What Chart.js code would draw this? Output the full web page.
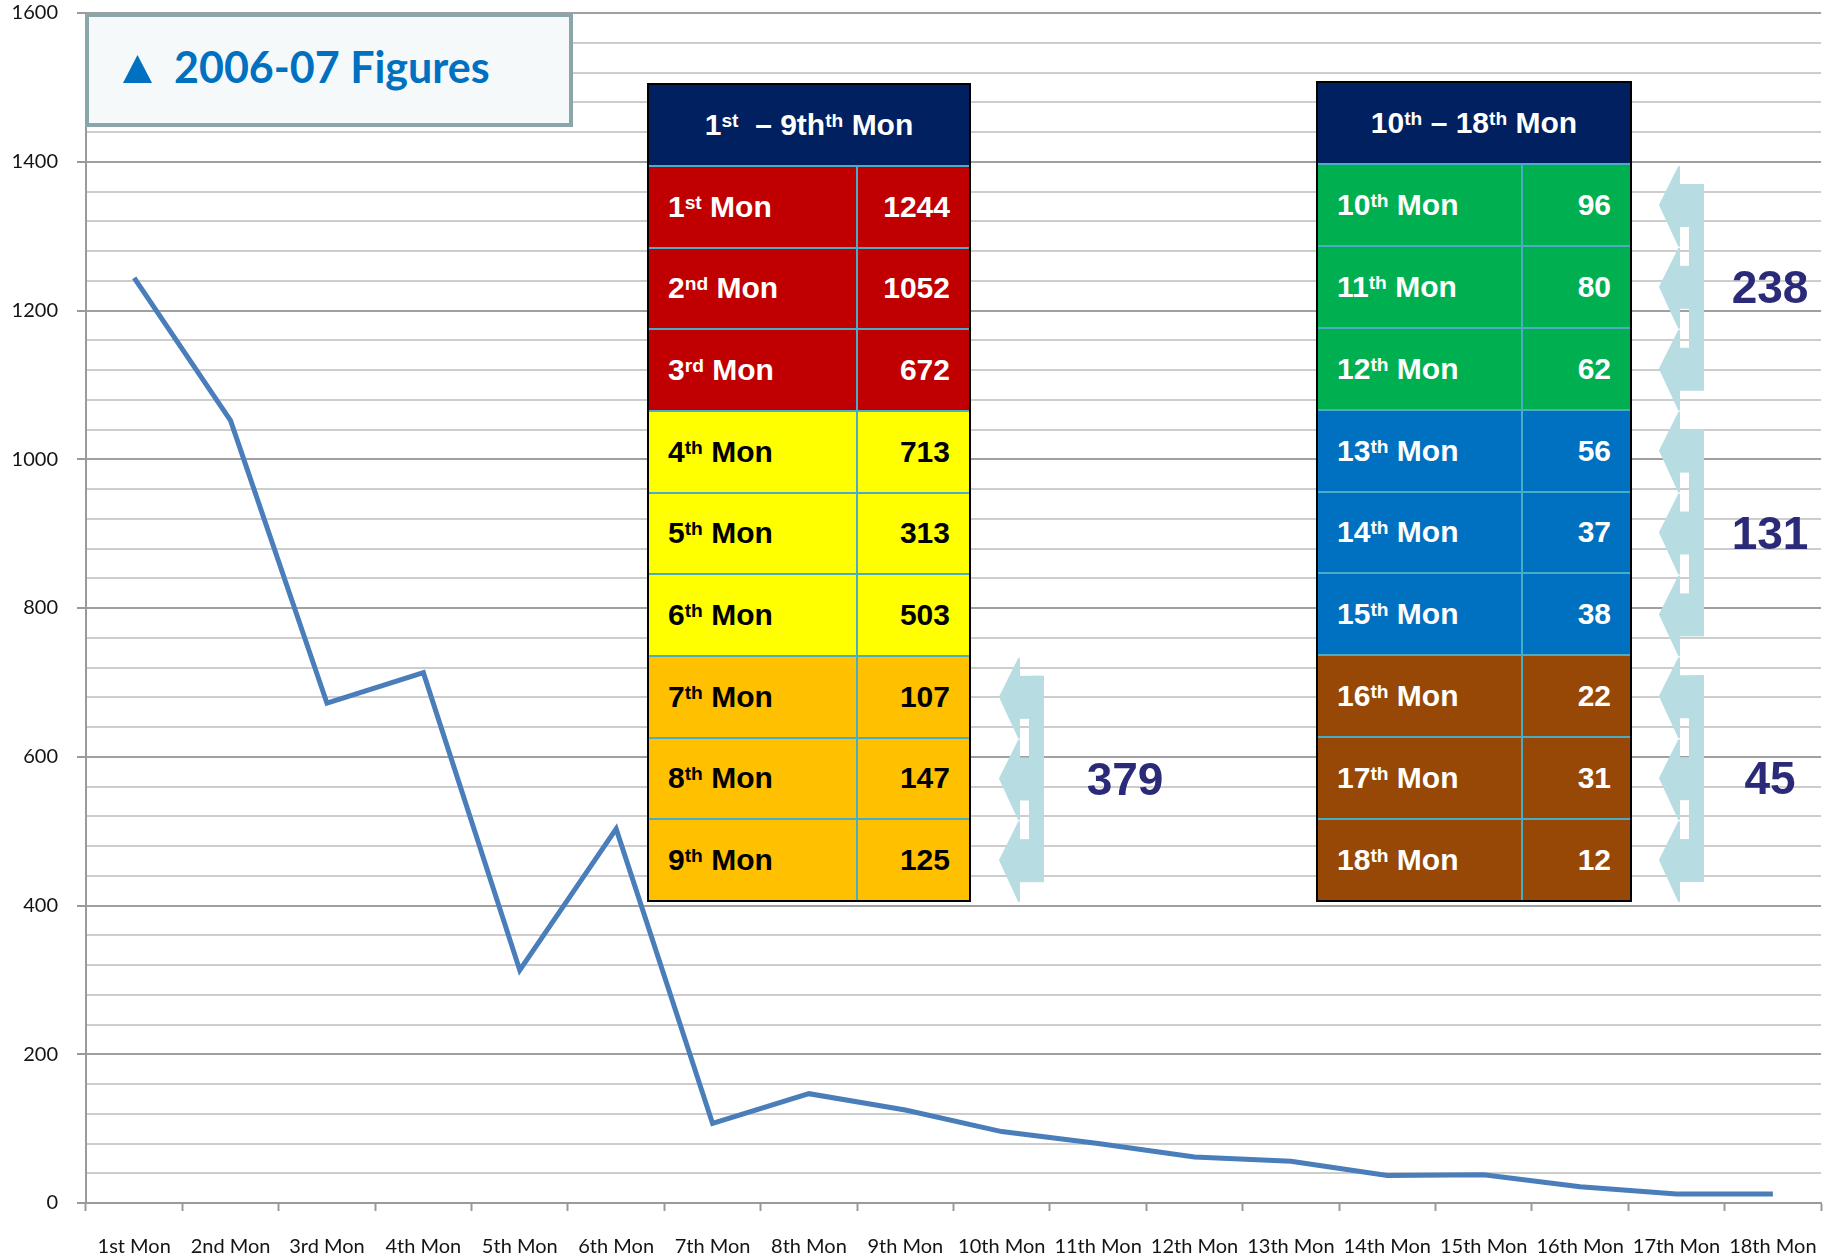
<!DOCTYPE html>
<html>
<head>
<meta charset="utf-8">
<script src="https://cdn.jsdelivr.net/npm/chart.js@4.4.0/dist/chart.umd.min.js"></script>
<style>
  body { margin: 0; background: #fff; }
  #wrap { position: relative; width: 1841px; height: 1258px; overflow: hidden; background: #fff; }
  #chart { position: absolute; left: 0; top: 0; }
  .titleBox { position: absolute; box-sizing: border-box; border: 4px solid #8ba6aa; background: #f5f9fa; }
  .titleBox .tri { position: absolute; width: 29px; height: 28px; background: #0070c0;
    clip-path: polygon(50% 0, 100% 100%, 0 100%); }
  .titleBox .txt { position: absolute; font-family: Lato, sans-serif; font-weight: bold; font-size: 43px;
    line-height: 43px; color: #0070c0; white-space: nowrap; }
  .tbl { position: absolute; box-sizing: border-box; border: 2px solid #000;
    font-family: 'Liberation Sans', Arial, sans-serif; font-weight: bold; font-size: 30px; }
  .hdr { background: #002060; color: #fff; display: flex; align-items: center; justify-content: center; white-space: nowrap; }
  .row { display: flex; box-sizing: border-box; border-top: 2px solid #4bacc6; }
  .lab { box-sizing: border-box; border-right: 2px solid #4bacc6; padding-left: 19px; display: flex; align-items: center; white-space: nowrap; }
  .val { flex: 1; padding-right: 19px; display: flex; align-items: center; justify-content: flex-end; }
  sup { font-size: 0.64em; line-height: 0; vertical-align: 0.42em; }
  .total { position: absolute; font-family: 'Liberation Sans', Arial, sans-serif; font-weight: bold; font-size: 46px;
    color: #2a2a78; transform: translate(-50%, -50%); line-height: 1; }
  svg { position: absolute; left: 0; top: 0; }
</style>
</head>
<body>
<div id="wrap">
  <canvas id="chart" width="1841" height="1258"></canvas>
  <svg id="arrows" width="1841" height="1258"></svg>
</div>
<script>
// data
const ordinals = ['1st', '2nd', '3rd', '4th', '5th', '6th', '7th', '8th', '9th',
  '10th', '11th', '12th', '13th', '14th', '15th', '16th', '17th', '18th'];
const monthLabels = ordinals.map((o) => o + ' Mon');
// values of the line as plotted
const lineValues = [1244, 1052, 672, 713, 313, 503, 107, 147, 125, 96, 80, 62, 56, 37, 38, 22, 12, 12];
// values printed in the two tables
const tableValues = [1244, 1052, 672, 713, 313, 503, 107, 147, 125, 96, 80, 62, 56, 37, 38, 22, 31, 12];
const tableHeaders = ['1<sup>st</sup>&nbsp; – 9th<sup>th</sup> Mon', '10<sup>th</sup> – 18<sup>th</sup> Mon'];
const groupTotals = [379, 238, 131, 45];
const groupRows = [[6, 7, 8], [9, 10, 11], [12, 13, 14], [15, 16, 17]];
const yMax = 1600;
const yStep = 40;
const yLabelStep = 200;
const titleText = '2006-07 Figures';

// styling
const bandColors = ['#c00000', '#ffff00', '#ffc000', '#00b050', '#0070c0', '#974706'];
const bandText = ['#fff', '#000', '#000', '#fff', '#fff', '#fff'];
const tables = [
  { left: 647, top: 83, width: 324, height: 819, split: 211, first: 0 },
  { left: 1316, top: 81, width: 316, height: 821, split: 207, first: 9 },
];
const groupLayout = [
  { tip: 1000, labelX: 1125 },
  { tip: 1660, labelX: 1770 },
  { tip: 1660, labelX: 1770 },
  { tip: 1660, labelX: 1770 },
];
const HEADER_H = 80;
const wrap = document.getElementById('wrap');

// title box
const tb = document.createElement('div');
tb.className = 'titleBox';
Object.assign(tb.style, { left: '85px', top: '13px', width: '488px', height: '114px' });
tb.innerHTML = '<div class="tri" style="left:34px;top:38px"></div><div class="txt" style="left:85px;top:28px"></div>';
tb.querySelector('.txt').textContent = titleText;
wrap.appendChild(tb);

function ordHtml(o) {
  const m = o.match(/^(\d+)(\D+)$/);
  return '<span>' + m[1] + '<sup>' + m[2] + '</sup> Mon</span>';
}

// the two tables
const rowCenters = [];
tables.forEach((t, ti) => {
  const el = document.createElement('div');
  el.className = 'tbl';
  Object.assign(el.style, { left: t.left + 'px', top: t.top + 'px', width: t.width + 'px', height: t.height + 'px' });
  const rowH = (t.height - 4 - HEADER_H) / 9;
  let html = '<div class="hdr" style="height:' + HEADER_H + 'px"><span>' + tableHeaders[ti] + '</span></div>';
  for (let r = 0; r < 9; r++) {
    const i = t.first + r;
    const band = ti * 3 + Math.floor(r / 3);
    html += '<div class="row" style="height:' + rowH + 'px;background:' + bandColors[band] + ';color:' + bandText[band] + '">' +
      '<div class="lab" style="width:' + (t.split - 2) + 'px">' + ordHtml(ordinals[i]) + '</div>' +
      '<div class="val"><span>' + tableValues[i] + '</span></div></div>';
    rowCenters[i] = t.top + 2 + HEADER_H + rowH * (r + 0.5) + 1;
  }
  el.innerHTML = html;
  wrap.appendChild(el);
});

// bracket arrows and group totals
const svg = document.getElementById('arrows');
let svgHtml = '';
groupRows.forEach((rows, g) => {
  const tip = groupLayout[g].tip;
  const cys = rows.map((i) => rowCenters[i]);
  const fill = '#b7dde2';
  svgHtml += '<rect x="' + (tip + 29) + '" y="' + (cys[0] - 21) + '" width="15" height="' + (cys[cys.length - 1] - cys[0] + 41) + '" fill="' + fill + '" rx="2"/>';
  cys.forEach((cy) => {
    svgHtml += '<polygon points="' + (tip + 19) + ',' + (cy - 38) + ' ' + tip + ',' + cy + ' ' + (tip + 19) + ',' + (cy + 41) + '" fill="' + fill + '" stroke="' + fill + '" stroke-width="2" stroke-linejoin="round"/>';
    svgHtml += '<rect x="' + (tip + 18) + '" y="' + (cy - 21) + '" width="26" height="43" fill="' + fill + '"/>';
  });
  const lab = document.createElement('div');
  lab.className = 'total';
  lab.textContent = groupTotals[g];
  lab.style.left = groupLayout[g].labelX + 'px';
  lab.style.top = cys[1] + 'px';
  wrap.appendChild(lab);
});
svg.innerHTML = svgHtml;

// the chart itself
const isMajor = (v) => v % yLabelStep === 0;
new Chart(document.getElementById('chart'), {
  type: 'line',
  data: {
    labels: monthLabels,
    datasets: [{
      data: lineValues,
      borderColor: '#4a7ebb',
      borderWidth: 5,
      pointRadius: 0,
      tension: 0,
      fill: false,
    }],
  },
  options: {
    responsive: false,
    animation: false,
    layout: { padding: { top: 13, right: 15, left: 0, bottom: 0 } },
    plugins: { legend: { display: false }, tooltip: { enabled: false } },
    scales: {
      x: {
        offset: true,
        grid: { offset: true, drawOnChartArea: false, tickLength: 8, tickColor: '#9a9a9a', tickWidth: 2 },
        border: { color: '#9a9a9a', width: 2 },
        ticks: { autoSkip: false, maxRotation: 0, minRotation: 0, padding: 24, color: '#141414',
          font: { family: 'Lato', size: 20 } },
        afterFit: (s) => { s.height = 55; },
      },
      y: {
        min: 0,
        max: yMax,
        ticks: {
          stepSize: yStep, maxTicksLimit: 60, autoSkip: false, padding: 19, color: '#141414',
          font: { family: 'Lato', size: 20 },
          callback: (v) => (isMajor(v) ? v : ''),
        },
        grid: {
          lineWidth: 2,
          tickLength: 9,
          color: (c) => (isMajor(c.tick.value) ? '#a0a0a0' : '#cdcdcd'),
          tickColor: (c) => (isMajor(c.tick.value) ? '#9a9a9a' : 'rgba(0,0,0,0)'),
        },
        border: { color: '#9a9a9a', width: 2 },
        afterFit: (s) => { s.width = 86; s.paddingTop = 13; s.paddingBottom = 0; },
      },
    },
  },
});
</script>
</body>
</html>
